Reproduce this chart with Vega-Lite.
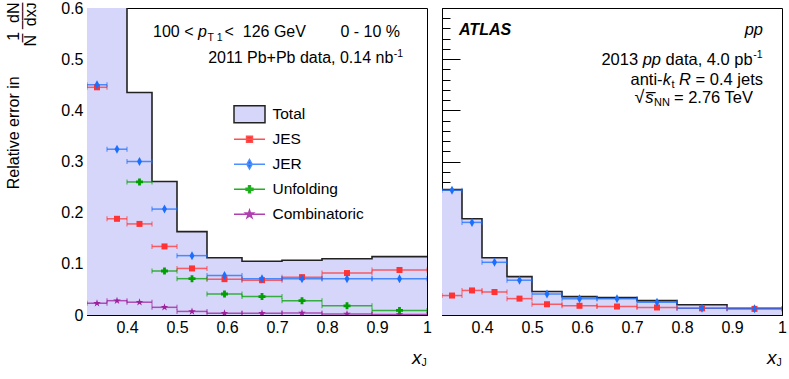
{
  "$schema": "https://vega.github.io/schema/vega-lite/v6.json",
  "background": "white",
  "padding": {"left": 5, "top": 0, "right": 0, "bottom": 0},
  "bounds": "flush",
  "spacing": 15,
  "config": {
    "font": "Liberation Sans",
    "view": {"stroke": null},
    "axis": {"grid": false, "labelFont": "Liberation Sans", "labelFontSize": 16, "labelColor": "black", "tickColor": "black", "tickWidth": 1, "domainColor": "black", "domainWidth": 1, "titleColor": "black", "titleFont": "Liberation Sans", "titleFontWeight": "normal", "zindex": 2},
    "text": {"font": "Liberation Sans", "fontSize": 16, "color": "black", "baseline": "alphabetic"}
  },
  "datasets": {
    "pbpbEdges": [
      {"x": 0.32, "total": 0.75}, {"x": 0.36, "total": 0.65}, {"x": 0.40, "total": 0.435},
      {"x": 0.45, "total": 0.261}, {"x": 0.50, "total": 0.163}, {"x": 0.56, "total": 0.112},
      {"x": 0.63, "total": 0.105}, {"x": 0.71, "total": 0.107}, {"x": 0.79, "total": 0.110},
      {"x": 0.89, "total": 0.114}, {"x": 1.0, "total": 0.114}
    ],
    "ppEdges": [
      {"x": 0.32, "total": 0.245}, {"x": 0.36, "total": 0.188}, {"x": 0.40, "total": 0.112},
      {"x": 0.45, "total": 0.075}, {"x": 0.50, "total": 0.046}, {"x": 0.56, "total": 0.036},
      {"x": 0.63, "total": 0.034}, {"x": 0.71, "total": 0.028}, {"x": 0.79, "total": 0.020},
      {"x": 0.89, "total": 0.0133}, {"x": 1.0, "total": 0.0133}
    ],
    "pbpbSyst": [
      {"series": "JES", "lo": 0.32, "hi": 0.36, "xc": 0.34, "value": 0.445},
      {"series": "JES", "lo": 0.36, "hi": 0.40, "xc": 0.38, "value": 0.188},
      {"series": "JES", "lo": 0.40, "hi": 0.45, "xc": 0.425, "value": 0.178},
      {"series": "JES", "lo": 0.45, "hi": 0.50, "xc": 0.475, "value": 0.134},
      {"series": "JES", "lo": 0.50, "hi": 0.56, "xc": 0.53, "value": 0.091},
      {"series": "JES", "lo": 0.56, "hi": 0.63, "xc": 0.595, "value": 0.070},
      {"series": "JES", "lo": 0.63, "hi": 0.71, "xc": 0.67, "value": 0.068},
      {"series": "JES", "lo": 0.71, "hi": 0.79, "xc": 0.75, "value": 0.074},
      {"series": "JES", "lo": 0.79, "hi": 0.89, "xc": 0.84, "value": 0.082},
      {"series": "JES", "lo": 0.89, "hi": 1.0, "xc": 0.945, "value": 0.088},
      {"series": "JER", "lo": 0.32, "hi": 0.36, "xc": 0.34, "value": 0.450},
      {"series": "JER", "lo": 0.36, "hi": 0.40, "xc": 0.38, "value": 0.324},
      {"series": "JER", "lo": 0.40, "hi": 0.45, "xc": 0.425, "value": 0.300},
      {"series": "JER", "lo": 0.45, "hi": 0.50, "xc": 0.475, "value": 0.207},
      {"series": "JER", "lo": 0.50, "hi": 0.56, "xc": 0.53, "value": 0.116},
      {"series": "JER", "lo": 0.56, "hi": 0.63, "xc": 0.595, "value": 0.077},
      {"series": "JER", "lo": 0.63, "hi": 0.71, "xc": 0.67, "value": 0.071},
      {"series": "JER", "lo": 0.71, "hi": 0.79, "xc": 0.75, "value": 0.071},
      {"series": "JER", "lo": 0.79, "hi": 0.89, "xc": 0.84, "value": 0.071},
      {"series": "JER", "lo": 0.89, "hi": 1.0, "xc": 0.945, "value": 0.071},
      {"series": "Unfolding", "lo": 0.40, "hi": 0.45, "xc": 0.425, "value": 0.260},
      {"series": "Unfolding", "lo": 0.45, "hi": 0.50, "xc": 0.475, "value": 0.086},
      {"series": "Unfolding", "lo": 0.50, "hi": 0.56, "xc": 0.53, "value": 0.071},
      {"series": "Unfolding", "lo": 0.56, "hi": 0.63, "xc": 0.595, "value": 0.041},
      {"series": "Unfolding", "lo": 0.63, "hi": 0.71, "xc": 0.67, "value": 0.036},
      {"series": "Unfolding", "lo": 0.71, "hi": 0.79, "xc": 0.75, "value": 0.028},
      {"series": "Unfolding", "lo": 0.79, "hi": 0.89, "xc": 0.84, "value": 0.018},
      {"series": "Unfolding", "lo": 0.89, "hi": 1.0, "xc": 0.945, "value": 0.009},
      {"series": "Combinatoric", "lo": 0.32, "hi": 0.36, "xc": 0.34, "value": 0.023},
      {"series": "Combinatoric", "lo": 0.36, "hi": 0.40, "xc": 0.38, "value": 0.028},
      {"series": "Combinatoric", "lo": 0.40, "hi": 0.45, "xc": 0.425, "value": 0.025},
      {"series": "Combinatoric", "lo": 0.45, "hi": 0.50, "xc": 0.475, "value": 0.015},
      {"series": "Combinatoric", "lo": 0.50, "hi": 0.56, "xc": 0.53, "value": 0.007},
      {"series": "Combinatoric", "lo": 0.56, "hi": 0.63, "xc": 0.595, "value": 0.0035},
      {"series": "Combinatoric", "lo": 0.63, "hi": 0.71, "xc": 0.67, "value": 0.0035},
      {"series": "Combinatoric", "lo": 0.71, "hi": 0.79, "xc": 0.75, "value": 0.004},
      {"series": "Combinatoric", "lo": 0.79, "hi": 0.89, "xc": 0.84, "value": 0.002},
      {"series": "Combinatoric", "lo": 0.89, "hi": 1.0, "xc": 0.945, "value": 0.001}
    ],
    "ppSyst": [
      {"series": "JES", "lo": 0.32, "hi": 0.36, "xc": 0.34, "value": 0.038},
      {"series": "JES", "lo": 0.36, "hi": 0.40, "xc": 0.38, "value": 0.048},
      {"series": "JES", "lo": 0.40, "hi": 0.45, "xc": 0.425, "value": 0.045},
      {"series": "JES", "lo": 0.45, "hi": 0.50, "xc": 0.475, "value": 0.032},
      {"series": "JES", "lo": 0.50, "hi": 0.56, "xc": 0.53, "value": 0.021},
      {"series": "JES", "lo": 0.56, "hi": 0.63, "xc": 0.595, "value": 0.018},
      {"series": "JES", "lo": 0.63, "hi": 0.71, "xc": 0.67, "value": 0.0166},
      {"series": "JES", "lo": 0.71, "hi": 0.79, "xc": 0.75, "value": 0.0147},
      {"series": "JES", "lo": 0.79, "hi": 0.89, "xc": 0.84, "value": 0.013},
      {"series": "JES", "lo": 0.89, "hi": 1.0, "xc": 0.945, "value": 0.012},
      {"series": "JER", "lo": 0.32, "hi": 0.36, "xc": 0.34, "value": 0.244},
      {"series": "JER", "lo": 0.36, "hi": 0.40, "xc": 0.38, "value": 0.181},
      {"series": "JER", "lo": 0.40, "hi": 0.45, "xc": 0.425, "value": 0.103},
      {"series": "JER", "lo": 0.45, "hi": 0.50, "xc": 0.475, "value": 0.068},
      {"series": "JER", "lo": 0.50, "hi": 0.56, "xc": 0.53, "value": 0.041},
      {"series": "JER", "lo": 0.56, "hi": 0.63, "xc": 0.595, "value": 0.032},
      {"series": "JER", "lo": 0.63, "hi": 0.71, "xc": 0.67, "value": 0.032},
      {"series": "JER", "lo": 0.71, "hi": 0.79, "xc": 0.75, "value": 0.025},
      {"series": "JER", "lo": 0.79, "hi": 0.89, "xc": 0.84, "value": 0.013},
      {"series": "JER", "lo": 0.89, "hi": 1.0, "xc": 0.945, "value": 0.012}
    ]
  },
  "resolve": {
    "scale": {"fill": "independent", "stroke": "independent", "shape": "independent"},
    "legend": {"fill": "independent", "stroke": "independent", "shape": "independent"}
  },
  "hconcat": [
    {
      "width": 340,
      "height": 307,
      "resolve": {"axis": {"x": "independent", "y": "independent"}},
      "layer": [
        {
          "data": {"name": "pbpbEdges"},
          "mark": {"type": "area", "interpolate": "step-after", "color": "#d6d6fa", "clip": true},
          "encoding": {
            "x": {"field": "x", "type": "quantitative", "scale": {"domain": [0.32, 1], "nice": false, "zero": false},
              "axis": {"orient": "bottom", "values": [0.4, 0.5, 0.6, 0.7, 0.8, 0.9, 1], "tickSize": -5, "labelPadding": 9, "labelFlush": false, "labelExpr": "datum.value == 1 ? '1' : format(datum.value, '.1f')", "domain": true, "title": "x", "titleFontStyle": "italic", "titleFontSize": 19, "titleAlign": "right", "titleBaseline": "alphabetic", "titleX": 334, "titleY": 48.5}},
            "y": {"field": "total", "type": "quantitative", "scale": {"domain": [0, 0.6], "nice": false},
              "axis": {"orient": "left", "values": [0, 0.1, 0.2, 0.3, 0.4, 0.5, 0.6], "tickSize": -18, "labelPadding": 22, "labelExpr": "datum.value == 0 ? '0' : format(datum.value, '.1f')", "domain": true, "title": ["Relative error in\u00a0\u00a0\u00a0\u00a0\u00a0\u00a0\u00a0\u00a01\u00a0\u00a0dN", "–\u00a0–––", "N\u00a0\u00a0dxᴊ"], "titleFontSize": 16, "titleLineHeight": 8.5, "titleAngle": 270, "titleAlign": "right", "titleBaseline": "alphabetic", "titleX": -69, "titleY": -6, "titleLimit": 0}}
          }
        },
        {
          "data": {"name": "pbpbEdges"},
          "mark": {"type": "line", "interpolate": "step-after", "color": "#222222", "strokeWidth": 1.6, "clip": true},
          "encoding": {
            "x": {"field": "x", "type": "quantitative", "axis": {"orient": "bottom", "values": [0.32, 0.34, 0.36, 0.38, 0.4, 0.42, 0.44, 0.46, 0.48, 0.5, 0.52, 0.54, 0.56, 0.58, 0.6, 0.62, 0.64, 0.66, 0.68, 0.7, 0.72, 0.74, 0.76, 0.78, 0.8, 0.82, 0.84, 0.86, 0.88, 0.9, 0.92, 0.94, 0.96, 0.98, 1], "tickSize": -2.5, "labels": false, "domain": false, "title": null}},
            "y": {"field": "total", "type": "quantitative", "axis": {"orient": "left", "values": [0, 0.02, 0.04, 0.06, 0.08, 0.1, 0.12, 0.14, 0.16, 0.18, 0.2, 0.22, 0.24, 0.26, 0.28, 0.3, 0.32, 0.34, 0.36, 0.38, 0.4, 0.42, 0.44, 0.46, 0.48, 0.5, 0.52, 0.54, 0.56, 0.58, 0.6], "tickSize": -8, "labels": false, "domain": false, "title": null}}
          }
        },
        {
          "data": {"name": "pbpbSyst"},
          "mark": {"type": "rule", "strokeWidth": 1.5, "opacity": 0.75, "clip": true},
          "encoding": {
            "x": {"field": "lo", "type": "quantitative", "axis": {"orient": "top", "ticks": false, "labels": false, "domain": true, "title": null}},
            "x2": {"field": "hi"},
            "y": {"field": "value", "type": "quantitative", "axis": {"orient": "right", "ticks": false, "labels": false, "domain": true, "title": null}},
            "color": {"field": "series", "type": "nominal", "scale": {"domain": ["JES", "JER", "Unfolding", "Combinatoric"], "range": ["#ff3333", "#1a6fff", "#00a000", "#9c1f9c"]}, "legend": null}
          }
        },
        {
          "data": {"name": "pbpbSyst"},
          "mark": {"type": "tick", "orient": "vertical", "size": 5, "thickness": 1, "opacity": 0.75, "clip": true},
          "encoding": {
            "x": {"field": "lo", "type": "quantitative", "axis": null},
            "y": {"field": "value", "type": "quantitative", "axis": null},
            "color": {"field": "series", "type": "nominal", "legend": null}
          }
        },
        {
          "data": {"name": "pbpbSyst"},
          "mark": {"type": "tick", "orient": "vertical", "size": 5, "thickness": 1, "opacity": 0.75, "clip": true},
          "encoding": {
            "x": {"field": "hi", "type": "quantitative", "axis": null},
            "y": {"field": "value", "type": "quantitative", "axis": null},
            "color": {"field": "series", "type": "nominal", "legend": null}
          }
        },
        {
          "data": {"name": "pbpbSyst"},
          "transform": [{"filter": "datum.series == 'JES'"}],
          "mark": {"type": "point", "filled": true, "opacity": 1, "shape": "square", "size": 36, "clip": true},
          "encoding": {
            "x": {"field": "xc", "type": "quantitative", "axis": null},
            "y": {"field": "value", "type": "quantitative", "axis": null},
            "color": {"field": "series", "type": "nominal", "legend": null}
          }
        },
        {
          "data": {"name": "pbpbSyst"},
          "transform": [{"filter": "datum.series == 'JER'"}],
          "mark": {"type": "point", "filled": true, "opacity": 1, "shape": "M0,-1L0.55,0L0,1L-0.55,0Z", "size": 81, "clip": true},
          "encoding": {
            "x": {"field": "xc", "type": "quantitative", "axis": null},
            "y": {"field": "value", "type": "quantitative", "axis": null},
            "color": {"field": "series", "type": "nominal", "legend": null}
          }
        },
        {
          "data": {"name": "pbpbSyst"},
          "transform": [{"filter": "datum.series == 'Unfolding'"}],
          "mark": {"type": "point", "filled": true, "opacity": 1, "shape": "cross", "size": 49, "clip": true},
          "encoding": {
            "x": {"field": "xc", "type": "quantitative", "axis": null},
            "y": {"field": "value", "type": "quantitative", "axis": null},
            "color": {"field": "series", "type": "nominal", "legend": null}
          }
        },
        {
          "data": {"name": "pbpbSyst"},
          "transform": [{"filter": "datum.series == 'Combinatoric'"}],
          "mark": {"type": "point", "filled": true, "opacity": 1, "shape": "M0,-1L0.224,-0.309L0.951,-0.309L0.363,0.118L0.588,0.809L0,0.382L-0.588,0.809L-0.363,0.118L-0.951,-0.309L-0.224,-0.309Z", "size": 64, "clip": true},
          "encoding": {
            "x": {"field": "xc", "type": "quantitative", "axis": null},
            "y": {"field": "value", "type": "quantitative", "axis": null},
            "color": {"field": "series", "type": "nominal", "legend": null}
          }
        },
        {
          "data": {"name": "pbpbSyst"},
          "mark": {"type": "point", "filled": true, "opacity": 0},
          "encoding": {
            "x": {"field": "xc", "type": "quantitative", "axis": null},
            "y": {"field": "value", "type": "quantitative", "axis": null},
            "fill": {"field": "series", "type": "nominal", "scale": {"domain": ["Total", "JES", "JER", "Unfolding", "Combinatoric"], "range": ["#d6d6fa", "#ff3333", "#1a6fff", "#00a000", "#9c1f9c"]},
              "legend": {"orient": "none", "legendX": 146, "legendY": 94, "title": null, "padding": 0, "rowPadding": 0, "clipHeight": 24.5, "symbolSize": 961, "symbolStrokeWidth": 1.5, "symbolOpacity": 1, "labelFont": "Liberation Sans", "labelFontSize": 15.5, "labelColor": "black", "labelOffset": 6.5, "direction": "vertical"}},
            "stroke": {"field": "series", "type": "nominal", "scale": {"domain": ["Total", "JES", "JER", "Unfolding", "Combinatoric"], "range": ["#222222", "#ff5050", "#4a90ff", "#20b020", "#b040b0"]},
              "legend": {"orient": "none", "legendX": 146, "legendY": 94, "title": null, "padding": 0, "rowPadding": 0, "clipHeight": 24.5, "symbolSize": 961, "symbolStrokeWidth": 1.5, "symbolOpacity": 1, "labelFont": "Liberation Sans", "labelFontSize": 15.5, "labelColor": "black", "labelOffset": 6.5, "direction": "vertical"}},
            "shape": {"field": "series", "type": "nominal", "scale": {"domain": ["Total", "JES", "JER", "Unfolding", "Combinatoric"], "range": ["M-1,-0.55H1V0.55H-1Z", "M-1,0H1M-0.19,-0.19H0.19V0.19H-0.19Z", "M-1,0H1M0,-0.3L0.17,0L0,0.3L-0.17,0Z", "M-1,0H1M-0.06,-0.22H0.06V-0.06H0.22V0.06H0.06V0.22H-0.06V0.06H-0.22V-0.06H-0.06Z", "M-1,0H1M0,-0.26L0.058,-0.08L0.247,-0.08L0.094,0.03L0.153,0.21L0,0.099L-0.153,0.21L-0.094,0.03L-0.247,-0.08L-0.058,-0.08Z"]},
              "legend": {"orient": "none", "legendX": 146, "legendY": 94, "title": null, "padding": 0, "rowPadding": 0, "clipHeight": 24.5, "symbolSize": 961, "symbolStrokeWidth": 1.5, "symbolOpacity": 1, "labelFont": "Liberation Sans", "labelFontSize": 15.5, "labelColor": "black", "labelOffset": 6.5, "direction": "vertical"}}
          }
        },
        {"data": {"values": [{}]}, "mark": {"type": "text", "text": "100 <", "align": "left"},
          "encoding": {"x": {"datum": 0.452, "type": "quantitative", "axis": null}, "y": {"datum": 0.544, "type": "quantitative", "axis": null}}},
        {"data": {"values": [{}]}, "mark": {"type": "text", "text": "p", "align": "left", "fontStyle": "italic", "dx": 45},
          "encoding": {"x": {"datum": 0.452, "type": "quantitative", "axis": null}, "y": {"datum": 0.544, "type": "quantitative", "axis": null}}},
        {"data": {"values": [{}]}, "mark": {"type": "text", "text": "T\u00a01", "align": "left", "fontSize": 10.5, "dx": 54.5},
          "encoding": {"x": {"datum": 0.452, "type": "quantitative", "axis": null}, "y": {"datum": 0.536, "type": "quantitative", "axis": null}}},
        {"data": {"values": [{}]}, "mark": {"type": "text", "text": "<\u00a0\u00a0126 GeV", "align": "left", "dx": 71.5},
          "encoding": {"x": {"datum": 0.452, "type": "quantitative", "axis": null}, "y": {"datum": 0.544, "type": "quantitative", "axis": null}}},
        {"data": {"values": [{}]}, "mark": {"type": "text", "text": "0 - 10 %", "align": "right"},
          "encoding": {"x": {"datum": 0.946, "type": "quantitative", "axis": null}, "y": {"datum": 0.544, "type": "quantitative", "axis": null}}},
        {"data": {"values": [{}]}, "mark": {"type": "text", "text": "2011 Pb+Pb data, 0.14 nb", "align": "right"},
          "encoding": {"x": {"datum": 0.9327, "type": "quantitative", "axis": null}, "y": {"datum": 0.492, "type": "quantitative", "axis": null}}},
        {"data": {"values": [{}]}, "mark": {"type": "text", "text": "-1", "align": "left", "fontSize": 10.5},
          "encoding": {"x": {"datum": 0.9335, "type": "quantitative", "axis": null}, "y": {"datum": 0.505, "type": "quantitative", "axis": null}}},
        {"data": {"values": [{}]}, "mark": {"type": "text", "text": "J", "align": "left", "fontSize": 10.5, "dx": -5.5, "dy": 51},
          "encoding": {"x": {"datum": 1, "type": "quantitative", "axis": null}, "y": {"datum": 0, "type": "quantitative", "axis": null}}}
      ]
    },
    {
      "width": 340,
      "height": 307,
      "resolve": {"axis": {"x": "independent", "y": "independent"}},
      "layer": [
        {
          "data": {"name": "ppEdges"},
          "mark": {"type": "area", "interpolate": "step-after", "color": "#d6d6fa", "clip": true},
          "encoding": {
            "x": {"field": "x", "type": "quantitative", "scale": {"domain": [0.32, 1], "nice": false, "zero": false},
              "axis": {"orient": "bottom", "values": [0.4, 0.5, 0.6, 0.7, 0.8, 0.9, 1], "tickSize": -5, "labelPadding": 9, "labelFlush": false, "labelExpr": "datum.value == 1 ? '1' : format(datum.value, '.1f')", "domain": true, "title": "x", "titleFontStyle": "italic", "titleFontSize": 19, "titleAlign": "right", "titleBaseline": "alphabetic", "titleX": 334, "titleY": 48.5}},
            "y": {"field": "total", "type": "quantitative", "scale": {"domain": [0, 0.6], "nice": false},
              "axis": {"orient": "left", "values": [0, 0.1, 0.2, 0.3, 0.4, 0.5, 0.6], "tickSize": -18, "labels": false, "domain": true, "title": null}}
          }
        },
        {
          "data": {"name": "ppEdges"},
          "mark": {"type": "line", "interpolate": "step-after", "color": "#222222", "strokeWidth": 1.6, "clip": true},
          "encoding": {
            "x": {"field": "x", "type": "quantitative", "axis": {"orient": "bottom", "values": [0.32, 0.34, 0.36, 0.38, 0.4, 0.42, 0.44, 0.46, 0.48, 0.5, 0.52, 0.54, 0.56, 0.58, 0.6, 0.62, 0.64, 0.66, 0.68, 0.7, 0.72, 0.74, 0.76, 0.78, 0.8, 0.82, 0.84, 0.86, 0.88, 0.9, 0.92, 0.94, 0.96, 0.98, 1], "tickSize": -2.5, "labels": false, "domain": false, "title": null}},
            "y": {"field": "total", "type": "quantitative", "axis": {"orient": "left", "values": [0, 0.02, 0.04, 0.06, 0.08, 0.1, 0.12, 0.14, 0.16, 0.18, 0.2, 0.22, 0.24, 0.26, 0.28, 0.3, 0.32, 0.34, 0.36, 0.38, 0.4, 0.42, 0.44, 0.46, 0.48, 0.5, 0.52, 0.54, 0.56, 0.58, 0.6], "tickSize": -8, "labels": false, "domain": false, "title": null}}
          }
        },
        {
          "data": {"name": "ppSyst"},
          "mark": {"type": "rule", "strokeWidth": 1.5, "opacity": 0.75, "clip": true},
          "encoding": {
            "x": {"field": "lo", "type": "quantitative", "axis": {"orient": "top", "ticks": false, "labels": false, "domain": true, "title": null}},
            "x2": {"field": "hi"},
            "y": {"field": "value", "type": "quantitative", "axis": {"orient": "right", "ticks": false, "labels": false, "domain": true, "title": null}},
            "color": {"field": "series", "type": "nominal", "scale": {"domain": ["JES", "JER", "Unfolding", "Combinatoric"], "range": ["#ff3333", "#1a6fff", "#00a000", "#9c1f9c"]}, "legend": null}
          }
        },
        {
          "data": {"name": "ppSyst"},
          "mark": {"type": "tick", "orient": "vertical", "size": 5, "thickness": 1, "opacity": 0.75, "clip": true},
          "encoding": {
            "x": {"field": "lo", "type": "quantitative", "axis": null},
            "y": {"field": "value", "type": "quantitative", "axis": null},
            "color": {"field": "series", "type": "nominal", "legend": null}
          }
        },
        {
          "data": {"name": "ppSyst"},
          "mark": {"type": "tick", "orient": "vertical", "size": 5, "thickness": 1, "opacity": 0.75, "clip": true},
          "encoding": {
            "x": {"field": "hi", "type": "quantitative", "axis": null},
            "y": {"field": "value", "type": "quantitative", "axis": null},
            "color": {"field": "series", "type": "nominal", "legend": null}
          }
        },
        {
          "data": {"name": "ppSyst"},
          "transform": [{"filter": "datum.series == 'JES'"}],
          "mark": {"type": "point", "filled": true, "opacity": 1, "shape": "square", "size": 36, "clip": true},
          "encoding": {
            "x": {"field": "xc", "type": "quantitative", "axis": null},
            "y": {"field": "value", "type": "quantitative", "axis": null},
            "color": {"field": "series", "type": "nominal", "legend": null}
          }
        },
        {
          "data": {"name": "ppSyst"},
          "transform": [{"filter": "datum.series == 'JER'"}],
          "mark": {"type": "point", "filled": true, "opacity": 1, "shape": "M0,-1L0.55,0L0,1L-0.55,0Z", "size": 81, "clip": true},
          "encoding": {
            "x": {"field": "xc", "type": "quantitative", "axis": null},
            "y": {"field": "value", "type": "quantitative", "axis": null},
            "color": {"field": "series", "type": "nominal", "legend": null}
          }
        },
        {"data": {"values": [{}]}, "mark": {"type": "text", "text": "ATLAS", "align": "left", "fontStyle": "italic", "fontWeight": "bold", "fontSize": 16},
          "encoding": {"x": {"datum": 0.354, "type": "quantitative", "axis": null}, "y": {"datum": 0.548, "type": "quantitative", "axis": null}}},
        {"data": {"values": [{}]}, "mark": {"type": "text", "text": "pp", "align": "right", "fontStyle": "italic", "fontSize": 16.5},
          "encoding": {"x": {"datum": 0.962, "type": "quantitative", "axis": null}, "y": {"datum": 0.548, "type": "quantitative", "axis": null}}},
        {"data": {"values": [{}]}, "mark": {"type": "text", "text": "-1", "align": "right", "fontSize": 10.5},
          "encoding": {"x": {"datum": 0.961, "type": "quantitative", "axis": null}, "y": {"datum": 0.503, "type": "quantitative", "axis": null}}},
        {"data": {"values": [{}]}, "mark": {"type": "text", "text": "data, 4.0 pb", "align": "right", "fontSize": 16.5, "dx": -9.8},
          "encoding": {"x": {"datum": 0.961, "type": "quantitative", "axis": null}, "y": {"datum": 0.489, "type": "quantitative", "axis": null}}},
        {"data": {"values": [{}]}, "mark": {"type": "text", "text": "pp", "align": "right", "fontStyle": "italic", "fontSize": 16.5, "dx": -101.5},
          "encoding": {"x": {"datum": 0.961, "type": "quantitative", "axis": null}, "y": {"datum": 0.489, "type": "quantitative", "axis": null}}},
        {"data": {"values": [{}]}, "mark": {"type": "text", "text": "2013", "align": "right", "fontSize": 16.5, "dx": -124.4},
          "encoding": {"x": {"datum": 0.961, "type": "quantitative", "axis": null}, "y": {"datum": 0.489, "type": "quantitative", "axis": null}}},
        {"data": {"values": [{}]}, "mark": {"type": "text", "text": "= 0.4 jets", "align": "right", "fontSize": 16.5},
          "encoding": {"x": {"datum": 0.962, "type": "quantitative", "axis": null}, "y": {"datum": 0.45, "type": "quantitative", "axis": null}}},
        {"data": {"values": [{}]}, "mark": {"type": "text", "text": "R", "align": "right", "fontStyle": "italic", "fontSize": 16.5, "dx": -72},
          "encoding": {"x": {"datum": 0.962, "type": "quantitative", "axis": null}, "y": {"datum": 0.45, "type": "quantitative", "axis": null}}},
        {"data": {"values": [{}]}, "mark": {"type": "text", "text": "t", "align": "right", "fontSize": 11, "dx": -88.5},
          "encoding": {"x": {"datum": 0.962, "type": "quantitative", "axis": null}, "y": {"datum": 0.444, "type": "quantitative", "axis": null}}},
        {"data": {"values": [{}]}, "mark": {"type": "text", "text": "k", "align": "right", "fontStyle": "italic", "fontSize": 16.5, "dx": -92.1},
          "encoding": {"x": {"datum": 0.962, "type": "quantitative", "axis": null}, "y": {"datum": 0.45, "type": "quantitative", "axis": null}}},
        {"data": {"values": [{}]}, "mark": {"type": "text", "text": "anti-", "align": "right", "fontSize": 16.5, "dx": -100.4},
          "encoding": {"x": {"datum": 0.962, "type": "quantitative", "axis": null}, "y": {"datum": 0.45, "type": "quantitative", "axis": null}}},
        {"data": {"values": [{}]}, "mark": {"type": "text", "text": "= 2.76 TeV", "align": "right", "fontSize": 16.5},
          "encoding": {"x": {"datum": 0.942, "type": "quantitative", "axis": null}, "y": {"datum": 0.414, "type": "quantitative", "axis": null}}},
        {"data": {"values": [{}]}, "mark": {"type": "text", "text": "NN", "align": "right", "fontSize": 11, "dx": -83},
          "encoding": {"x": {"datum": 0.942, "type": "quantitative", "axis": null}, "y": {"datum": 0.409, "type": "quantitative", "axis": null}}},
        {"data": {"values": [{}]}, "mark": {"type": "text", "text": "s̅", "align": "right", "fontStyle": "italic", "fontSize": 16.5, "dx": -99.4},
          "encoding": {"x": {"datum": 0.942, "type": "quantitative", "axis": null}, "y": {"datum": 0.414, "type": "quantitative", "axis": null}}},
        {"data": {"values": [{}]}, "mark": {"type": "text", "text": "√", "align": "right", "fontSize": 18, "dx": -108.7},
          "encoding": {"x": {"datum": 0.942, "type": "quantitative", "axis": null}, "y": {"datum": 0.414, "type": "quantitative", "axis": null}}},
        {"data": {"values": [{}]}, "mark": {"type": "text", "text": "J", "align": "left", "fontSize": 10.5, "dx": -5.5, "dy": 51},
          "encoding": {"x": {"datum": 1, "type": "quantitative", "axis": null}, "y": {"datum": 0, "type": "quantitative", "axis": null}}}
      ]
    }
  ]
}
